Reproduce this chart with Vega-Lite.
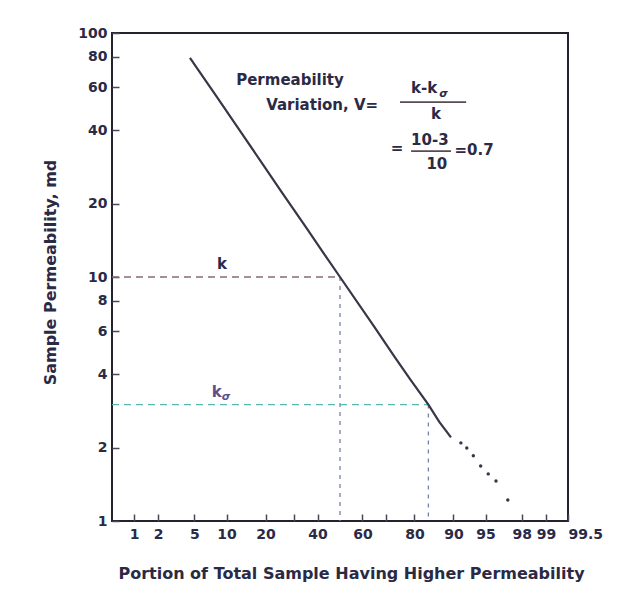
{
  "$schema": "https://vega.github.io/schema/vega-lite/v6.json",
  "description": "Log-probability plot of sample permeability used to read the permeability variation V = (k - k_sigma) / k.",
  "width": 456,
  "height": 488,
  "autosize": {"type": "none"},
  "padding": {"left": 112, "top": 33, "right": 65, "bottom": 85},
  "background": "white",
  "config": {
    "font": "DejaVu Sans",
    "view": {"stroke": "#23222e", "strokeWidth": 2},
    "axis": {
      "domain": false,
      "grid": false,
      "labelFont": "DejaVu Sans",
      "labelFontWeight": "bold",
      "labelFontSize": 14,
      "labelColor": "#2b2a45",
      "labelFlush": false,
      "labelOverlap": false,
      "tickColor": "#4a4858",
      "tickWidth": 1.5,
      "tickSize": -7,
      "titleFont": "DejaVu Sans",
      "titleFontWeight": "bold",
      "titleFontSize": 16,
      "titleColor": "#2b2a45"
    }
  },
  "datasets": {
    "curve": [
      {"p": 4.5, "k": 79},
      {"p": 8.0, "k": 55.7},
      {"p": 13.1, "k": 39.3},
      {"p": 18.7, "k": 29.6},
      {"p": 25.5, "k": 22.3},
      {"p": 35.0, "k": 16.0},
      {"p": 42.7, "k": 12.5},
      {"p": 50, "k": 10},
      {"p": 65.1, "k": 6.24},
      {"p": 73.2, "k": 4.7},
      {"p": 78.8, "k": 3.78},
      {"p": 84.1, "k": 3.0},
      {"p": 86.9, "k": 2.55},
      {"p": 89.5, "k": 2.2}
    ],
    "tail": [
      {"p": 91.4, "k": 2.09},
      {"p": 92.4, "k": 1.99},
      {"p": 93.4, "k": 1.85},
      {"p": 94.4, "k": 1.68},
      {"p": 95.3, "k": 1.56},
      {"p": 96.1, "k": 1.46},
      {"p": 97.1, "k": 1.22}
    ],
    "guides": [
      {"seg": "k across", "p": 0.5, "p2": 50, "k": 10, "k2": 10},
      {"seg": "k down", "p": 50, "p2": 50, "k": 10, "k2": 1},
      {"seg": "kσ across", "p": 0.5, "p2": 84.1, "k": 3, "k2": 3},
      {"seg": "kσ down", "p": 84.1, "p2": 84.1, "k": 3, "k2": 1}
    ],
    "bars": [
      {"p": 75.1, "p2": 92.3, "k": 52.1},
      {"p": 78.9, "p2": 89.5, "k": 32.8}
    ],
    "labels": [
      {"part": "text", "text": "Permeability", "p": 28.6, "k": 64.2},
      {"part": "text", "text": "Variation, V=", "p": 42.0, "k": 50.7},
      {"part": "text", "text": "k-k", "p": 82.9, "k": 59.5},
      {"part": "text", "text": "k", "p": 86.1, "k": 46.6},
      {"part": "text", "text": "=", "p": 74.0, "k": 33.8},
      {"part": "text", "text": "10-3", "p": 84.5, "k": 36.4},
      {"part": "text", "text": "10", "p": 86.3, "k": 29.0},
      {"part": "text", "text": "=0.7", "p": 93.5, "k": 33.1},
      {"part": "text", "text": "k", "p": 9.1, "k": 11.3},
      {"part": "sub", "text": "σ", "p": 87.9, "k": 56.2},
      {"part": "ksigma", "text": "k", "p": 8.2, "k": 3.38},
      {"part": "ksigma sub", "text": "σ", "p": 9.9, "k": 3.22}
    ]
  },
  "encoding": {
    "x": {
      "field": "probit",
      "type": "quantitative",
      "scale": {"domain": [-2.5759, 2.5759], "nice": false, "zero": false},
      "axis": {
        "title": "Portion of Total Sample Having Higher Permeability",
        "values": [-2.3263, -2.0537, -1.6449, -1.2816, -0.8416, -0.5244, -0.2533, 0.2533, 0.5244, 0.8416, 1.2816, 1.6449, 2.0537, 2.3263, 2.5758],
        "labelExpr": "indexof([30, 70], round(cumulativeNormal(datum.value) * 1000) / 10) >= 0 ? '' : '' + round(cumulativeNormal(datum.value) * 1000) / 10",
        "labelAlign": {"condition": {"test": "datum.value > 2.5", "value": "left"}, "value": "center"},
        "labelPadding": 13,
        "titleX": 239,
        "titleY": 52,
        "titleBaseline": "middle"
      }
    },
    "y": {
      "field": "k",
      "type": "quantitative",
      "scale": {"type": "log", "domain": [1, 100], "nice": false},
      "axis": {
        "title": "Sample Permeability, md",
        "values": [1, 2, 4, 6, 8, 10, 20, 40, 60, 80, 100],
        "format": "d",
        "labelPadding": 12,
        "titleX": -62,
        "titleY": 239,
        "titleBaseline": "middle"
      }
    }
  },
  "layer": [
    {
      "data": {"name": "guides"},
      "transform": [
        {"calculate": "quantileNormal(datum.p / 100)", "as": "probit"},
        {"calculate": "quantileNormal(datum.p2 / 100)", "as": "probit2"}
      ],
      "mark": {"type": "rule", "strokeWidth": 1.3},
      "encoding": {
        "x2": {"field": "probit2"},
        "y2": {"field": "k2"},
        "color": {
          "field": "seg",
          "type": "nominal",
          "scale": {"domain": ["k across", "k down", "kσ across", "kσ down"], "range": ["#86697c", "#7483a6", "#58b7ae", "#7483ad"]},
          "legend": null
        },
        "strokeDash": {
          "field": "seg",
          "type": "nominal",
          "scale": {"domain": ["k across", "k down", "kσ across", "kσ down"], "range": [[7, 5], [4, 5], [7, 5], [4, 5]]},
          "legend": null
        }
      }
    },
    {
      "data": {"name": "curve"},
      "transform": [{"calculate": "quantileNormal(datum.p / 100)", "as": "probit"}],
      "mark": {"type": "line", "color": "#3a3547", "strokeWidth": 2.2}
    },
    {
      "data": {"name": "tail"},
      "transform": [{"calculate": "quantileNormal(datum.p / 100)", "as": "probit"}],
      "mark": {"type": "circle", "color": "#3a3547", "size": 12, "opacity": 1}
    },
    {
      "data": {"name": "bars"},
      "transform": [
        {"calculate": "quantileNormal(datum.p / 100)", "as": "probit"},
        {"calculate": "quantileNormal(datum.p2 / 100)", "as": "probit2"}
      ],
      "mark": {"type": "rule", "color": "#5a4a55", "strokeWidth": 1.6},
      "encoding": {
        "x2": {"field": "probit2"}
      }
    },
    {
      "data": {"name": "labels"},
      "transform": [
        {"filter": "datum.part === 'text'"},
        {"calculate": "quantileNormal(datum.p / 100)", "as": "probit"}
      ],
      "mark": {"type": "text", "font": "DejaVu Sans", "fontWeight": "bold", "fontSize": 15, "color": "#2b2a45", "align": "center", "baseline": "middle"},
      "encoding": {"text": {"field": "text"}}
    },
    {
      "data": {"name": "labels"},
      "transform": [
        {"filter": "datum.part === 'sub'"},
        {"calculate": "quantileNormal(datum.p / 100)", "as": "probit"}
      ],
      "mark": {"type": "text", "font": "DejaVu Sans", "fontWeight": "bold", "fontStyle": "italic", "fontSize": 11, "color": "#2b2a45", "align": "center", "baseline": "middle"},
      "encoding": {"text": {"field": "text"}}
    },
    {
      "data": {"name": "labels"},
      "transform": [
        {"filter": "datum.part === 'ksigma'"},
        {"calculate": "quantileNormal(datum.p / 100)", "as": "probit"}
      ],
      "mark": {"type": "text", "font": "DejaVu Sans", "fontWeight": "bold", "fontSize": 15, "color": "#5d4f8e", "align": "center", "baseline": "middle"},
      "encoding": {"text": {"field": "text"}}
    },
    {
      "data": {"name": "labels"},
      "transform": [
        {"filter": "datum.part === 'ksigma sub'"},
        {"calculate": "quantileNormal(datum.p / 100)", "as": "probit"}
      ],
      "mark": {"type": "text", "font": "DejaVu Sans", "fontWeight": "bold", "fontStyle": "italic", "fontSize": 11, "color": "#5d4f8e", "align": "center", "baseline": "middle"},
      "encoding": {"text": {"field": "text"}}
    }
  ]
}
